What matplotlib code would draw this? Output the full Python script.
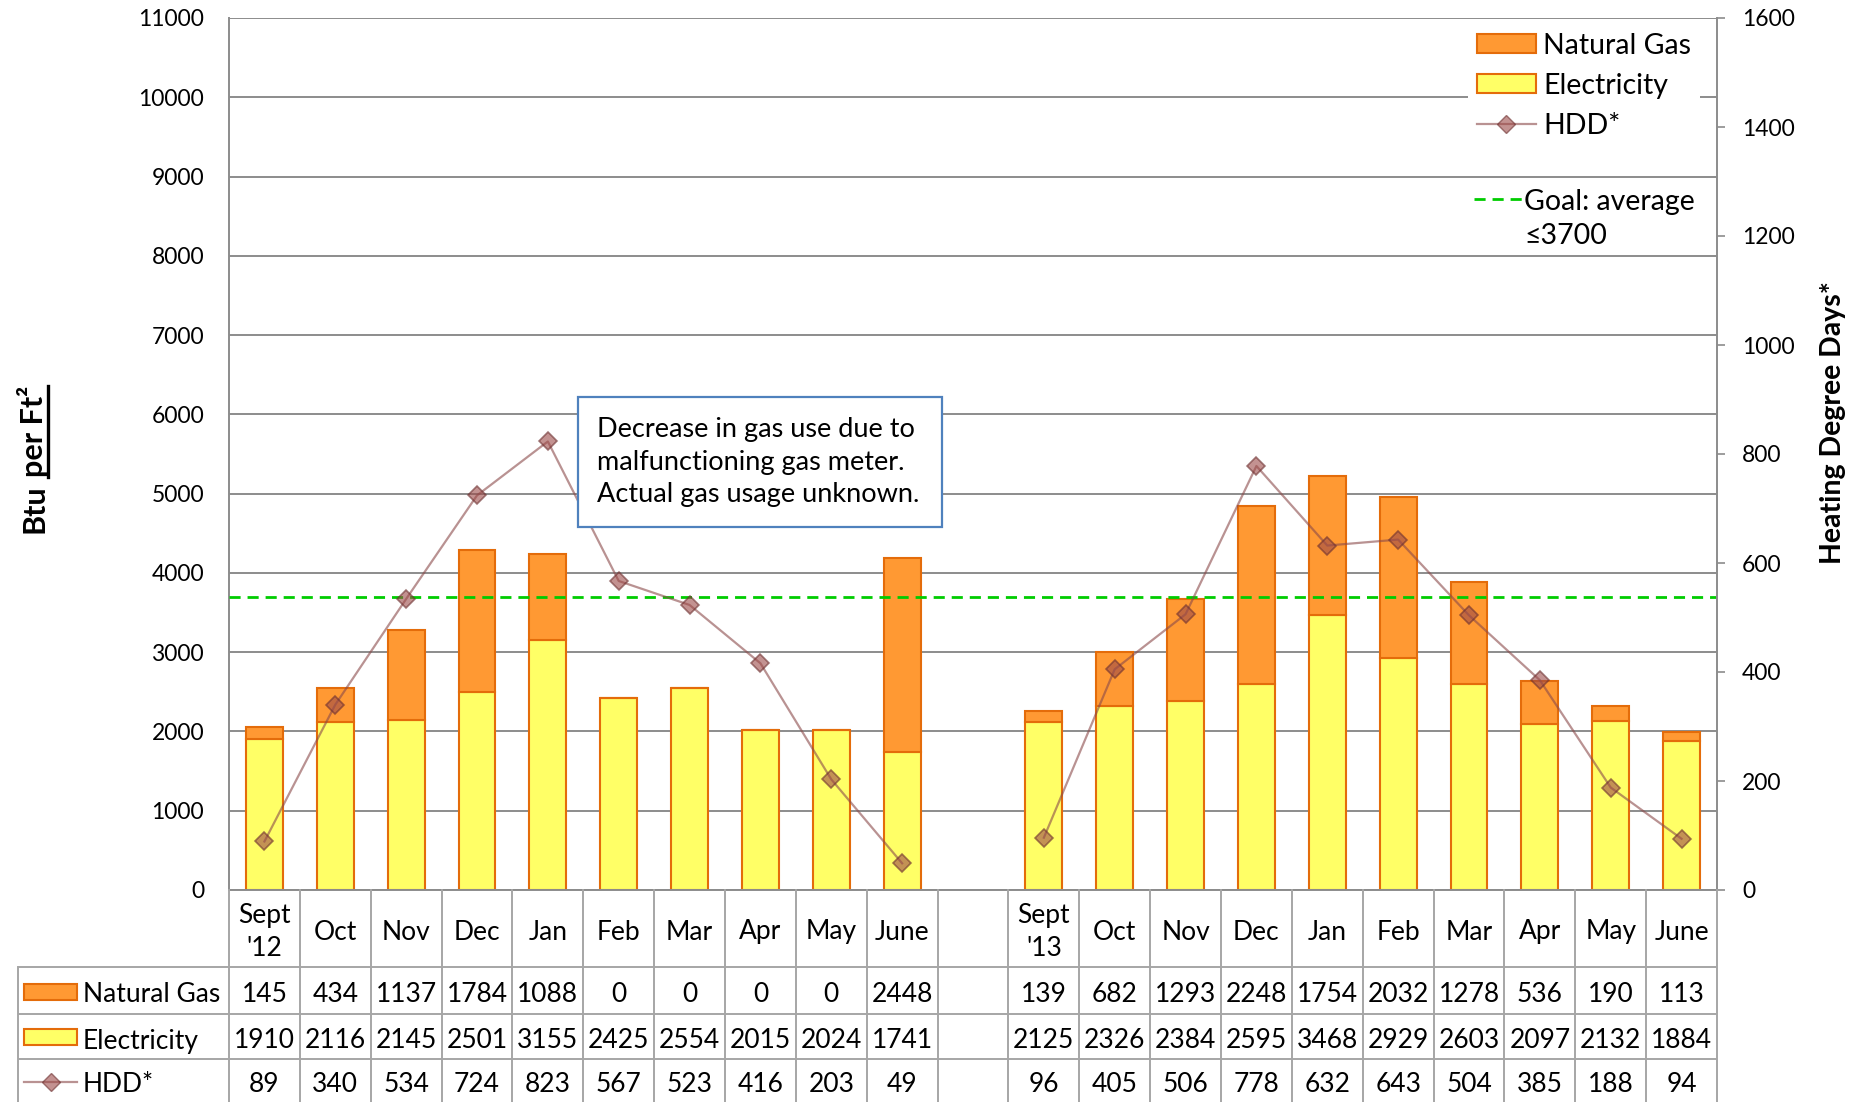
import numpy as np
import matplotlib
matplotlib.use("Agg")
import matplotlib.pyplot as plt
from matplotlib.lines import Line2D
from matplotlib.patches import Patch, Rectangle

plt.rcParams["font.family"] = ["Lato", "DejaVu Sans"]

months = ["Sept\n'12", "Oct", "Nov", "Dec", "Jan", "Feb", "Mar", "Apr", "May", "June", "",
          "Sept\n'13", "Oct", "Nov", "Dec", "Jan", "Feb", "Mar", "Apr", "May", "June"]
natural_gas = [145, 434, 1137, 1784, 1088, 0, 0, 0, 0, 2448, np.nan,
               139, 682, 1293, 2248, 1754, 2032, 1278, 536, 190, 113]
electricity = [1910, 2116, 2145, 2501, 3155, 2425, 2554, 2015, 2024, 1741, np.nan,
               2125, 2326, 2384, 2595, 3468, 2929, 2603, 2097, 2132, 1884]
hdd = [89, 340, 534, 724, 823, 567, 523, 416, 203, 49, np.nan,
       96, 405, 506, 778, 632, 643, 504, 385, 188, 94]
goal = 3700

GAS = "#FF9933"
ELEC = "#FFFF66"
EDGE = "#E46C0A"
HDD_LINE = "#8B4A4A"
HDD_FILL = "#9C4A48"
GRID = "#8C8C8C"
TABLE = "#A6A6A6"
TFS = 19  # table font size

W, H = 1860, 1102


def fx(px):
    return px / W


def fy(py):
    return 1 - py / H


fig = plt.figure(figsize=(W / 100, H / 100), dpi=100)
ax = fig.add_axes([fx(229), fy(890), fx(1717) - fx(229), fy(18) - fy(890)])

x = np.arange(len(months))
ax.bar(x, electricity, width=0.52, color=ELEC, edgecolor=EDGE, linewidth=1.5, zorder=2)
ax.bar(x, natural_gas, width=0.52, bottom=electricity, color=GAS, edgecolor=EDGE,
       linewidth=1.5, zorder=2)
ax.axhline(goal, color="#00CC00", linewidth=2, linestyle=(0, (4, 2.5)), zorder=3)

ax.set_xlim(-0.5, len(months) - 0.5)
ax.set_ylim(0, 11000)
ax.set_yticks(range(0, 11001, 1000))
ax.set_xticks([])
ax.yaxis.grid(True, color=GRID, linewidth=1.4)
ax.set_axisbelow(True)
ax.tick_params(axis="y", length=0, pad=18, labelsize=16.5)
for side in ["top", "right"]:
    ax.spines[side].set_visible(False)
for side in ["left", "bottom"]:
    ax.spines[side].set_color(GRID)
    ax.spines[side].set_linewidth(1.4)

ax2 = ax.twinx()
ax2.plot(x, hdd, color=HDD_LINE, alpha=0.6, linewidth=1.6, marker="D", markersize=9,
         markerfacecolor=HDD_FILL, markeredgecolor="#6B2E2E", markeredgewidth=1.2, zorder=4)
ax2.set_ylim(0, 1600)
ax2.set_yticks(range(0, 1601, 200))
ax2.tick_params(axis="y", length=6, width=1.2, color=GRID, pad=12, labelsize=16.5)
for side in ["top", "left", "bottom"]:
    ax2.spines[side].set_visible(False)
ax2.spines["right"].set_color(GRID)
ax2.spines["right"].set_linewidth(1.4)

handles = [
    Patch(facecolor=GAS, edgecolor=EDGE, linewidth=1.5),
    Patch(facecolor=ELEC, edgecolor=EDGE, linewidth=1.5),
    Line2D([], [], color=HDD_LINE, alpha=0.6, linewidth=1.6, marker="D", markersize=9,
           markerfacecolor=HDD_FILL, markeredgecolor="#6B2E2E"),
]
leg = ax2.legend(handles, ["Natural Gas", "Electricity", "HDD*"], loc="upper right",
                 bbox_to_anchor=(fx(1700), fy(24)), bbox_transform=fig.transFigure,
                 fontsize=20.5, frameon=True, framealpha=1, fancybox=False,
                 handlelength=2.1, handleheight=0.65, handletextpad=0.25,
                 labelspacing=0.5, borderpad=0.3, borderaxespad=0)
leg.get_frame().set_edgecolor("none")

fig.add_artist(Line2D([fx(1474), fx(1522)], [fy(199), fy(199)], color="#00CC00",
                      linewidth=2, linestyle=(0, (4, 2.5))))
fig.text(fx(1524), fy(219), "Goal: average\n≤3700", ha="left", va="center",
         fontsize=20.5, linespacing=1.4)

# note box about the gas meter
fig.add_artist(Rectangle((fx(578), fy(527)), fx(942) - fx(578), fy(397) - fy(527),
                         transform=fig.transFigure, facecolor="white",
                         edgecolor="#4F81BD", linewidth=1.6, zorder=5))
fig.text(fx(597), fy(462), "Decrease in gas use due to\nmalfunctioning gas meter.\n"
         "Actual gas usage unknown.", ha="left", va="center", fontsize=19.5,
         linespacing=1.38, zorder=6)

# axis titles
btu = fig.text(fx(43), fy(484), "Btu", rotation=90, rotation_mode="anchor",
               ha="right", va="baseline", fontsize=22, fontweight="bold")
per = fig.text(fx(43), fy(477), "per Ft²", rotation=90, rotation_mode="anchor",
               ha="left", va="baseline", fontsize=22, fontweight="bold")
fig.text(fx(1833), fy(423), "Heating Degree Days*", rotation=90, ha="center",
         va="center", fontsize=20.5, fontweight="bold")

# data table under the chart
cat_w = (1717 - 229) / len(months)
lab_left = -0.5 - (229 - 18) / cat_w
tax = fig.add_axes([fx(18), 0, fx(1717) - fx(18), fy(890)])
tax.set_xlim(lab_left, len(months) - 0.5)
tax.set_ylim(H, 890)
tax.axis("off")

for b in np.arange(-0.5, len(months), 1.0):
    tax.plot([b, b], [890, H + 5], color=TABLE, linewidth=1.4, clip_on=False)
tax.plot([lab_left, lab_left], [967, H + 5], color=TABLE, linewidth=1.4, clip_on=False)
for yl in [967, 1014, 1059]:
    tax.plot([lab_left, len(months) - 0.5], [yl, yl], color=TABLE, linewidth=1.4)

for i, m in enumerate(months):
    tax.text(i, 932, m, ha="center", va="center", fontsize=TFS, linespacing=1.42)

rows = [(natural_gas, 995), (electricity, 1041), (hdd, 1084)]
for vals, yc in rows:
    for i, v in enumerate(vals):
        if np.isnan(v):
            continue
        tax.text(i, yc, f"{int(v)}", ha="center", va="center", fontsize=TFS)

k0 = lab_left + 6 / cat_w
k1 = lab_left + 59 / cat_w
for (fill, yc) in [(GAS, 992), (ELEC, 1037)]:
    tax.add_patch(Rectangle((k0, yc - 8), k1 - k0, 16, facecolor=fill, edgecolor=EDGE,
                            linewidth=1.5))
tax.plot([k0, k1], [1082, 1082], color=HDD_LINE, alpha=0.6, linewidth=1.6)
tax.plot([(k0 + k1) / 2], [1082], marker="D", markersize=9, color=HDD_FILL, alpha=0.6,
         markeredgecolor="#6B2E2E")
for label, yc in [("Natural Gas", 995), ("Electricity", 1041), ("HDD*", 1084)]:
    tax.text(lab_left + 65 / cat_w, yc, label, ha="left", va="center", fontsize=TFS)

# underline the "per Ft²" part of the left title
fig.canvas.draw()
bb = per.get_window_extent(fig.canvas.get_renderer())
inv = fig.transFigure.inverted()
(_, y0), (_, y1) = inv.transform([(0, bb.y0), (0, bb.y1)])
fig.add_artist(Line2D([fx(48), fx(48)], [y0, y1], color="black", linewidth=2.4))

fig.savefig("out.png", dpi=100)
